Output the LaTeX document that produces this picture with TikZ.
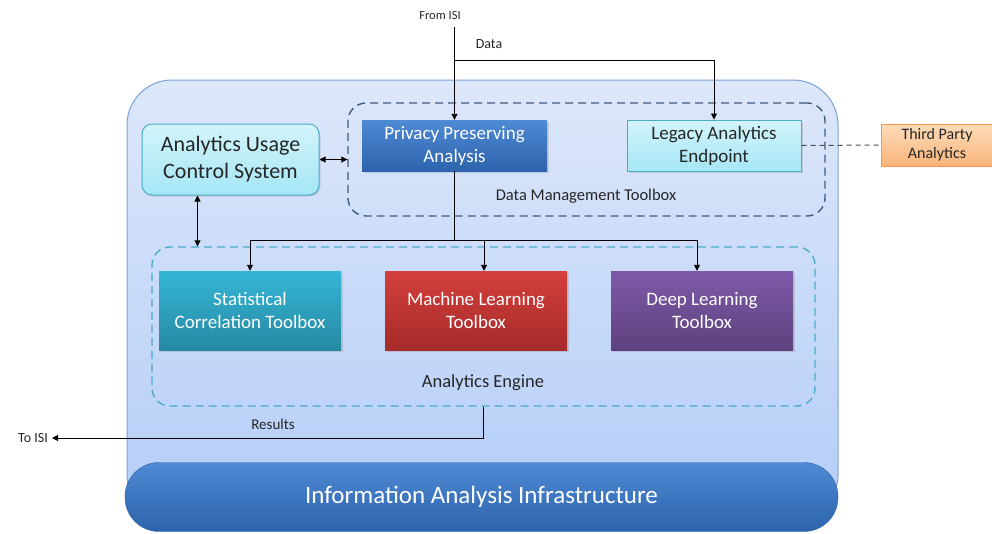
\documentclass[tikz,border=0pt]{standalone}
\usepackage{fontspec}
\setmainfont{Carlito}
\usetikzlibrary{arrows.meta,shadows}

\definecolor{panelTop}{HTML}{DDE7FA}
\definecolor{panelBot}{HTML}{B3CDF7}
\definecolor{panelLine}{HTML}{7BA3D6}
\definecolor{blueTop}{HTML}{4F8AD4}
\definecolor{blueBot}{HTML}{2C63AC}
\definecolor{cyanTop}{HTML}{D3F4FB}
\definecolor{cyanBot}{HTML}{A5E6F5}
\definecolor{cyanLine}{HTML}{4BACC6}
\definecolor{tealTop}{HTML}{35B6D6}
\definecolor{tealBot}{HTML}{2689A3}
\definecolor{redTop}{HTML}{D33F3C}
\definecolor{redBot}{HTML}{A52B2A}
\definecolor{purpTop}{HTML}{7D5AA8}
\definecolor{purpBot}{HTML}{5E417E}
\definecolor{orngTop}{HTML}{FDDCBA}
\definecolor{orngBot}{HTML}{F9B47A}
\definecolor{orngLine}{HTML}{F79646}
\definecolor{dashBlue}{HTML}{3F5B82}

\begin{document}
\begin{tikzpicture}[x=1pt,y=-1pt,
	every node/.style={inner sep=0pt, align=center, text=black!85},
	arrow/.style={draw=black, line width=0.9pt, -{Triangle[length=6pt,width=6pt]}},
	dblarrow/.style={draw=black, line width=0.9pt, {Triangle[length=6pt,width=6pt]}-{Triangle[length=6pt,width=6pt]}},
	plainline/.style={draw=black, line width=0.9pt},
	darkbox/.style={minimum width=182pt, minimum height=79pt, text=white, font=\fontsize{19}{23}\selectfont,
		drop shadow={opacity=0.25, shadow xshift=1.5pt, shadow yshift=-1.5pt}},
	lightbox/.style={draw=cyanLine, line width=1pt, top color=cyanTop, bottom color=cyanBot,
		drop shadow={opacity=0.25, shadow xshift=1.5pt, shadow yshift=-1.5pt}},
	groupbox/.style={dashed, dash pattern=on 8pt off 5pt, line width=1.4pt, rounded corners=18pt},
	caption/.style={font=\fontsize{16.5}{20}\selectfont}]
	\useasboundingbox (0,0) rectangle (992,533);
	% platform and base bar
	\draw [draw=panelLine, line width=1pt, top color=panelTop, bottom color=panelBot, rounded corners=45pt] (127,80) rectangle (838,520);
	\node [minimum width=713pt, minimum height=69pt, rounded corners=34pt, draw=blueBot, top color=blueTop, bottom color=blueBot, text=white, font=\fontsize{25}{29}\selectfont] (infra) at (481.5,497) {Information Analysis Infrastructure};
	% groups
	\node [groupbox, draw=dashBlue, minimum width=477pt, minimum height=113pt] (dmtool) at (586.5,159.5) {};
	\node [caption] at (586,196) {Data Management Toolbox};
	\node [groupbox, draw=cyanLine, minimum width=663pt, minimum height=159pt] (engine) at (483.5,326.5) {};
	\node [caption, font=\fontsize{18.5}{22}\selectfont] at (483,383) {Analytics Engine};
	% boxes
	\node [lightbox, rounded corners=10pt, minimum width=177pt, minimum height=71pt, font=\fontsize{22}{27}\selectfont] (aucs) at (230.5,159.5) {Analytics Usage\\Control System};
	\node [darkbox, top color=blueTop, bottom color=blueBot, minimum width=185pt, minimum height=51pt] (privacy) at (454.5,145.5) {Privacy Preserving\\Analysis};
	\node [lightbox, minimum width=174pt, minimum height=51pt, font=\fontsize{19}{23}\selectfont] (legacy) at (714,145.5) {Legacy Analytics\\Endpoint};
	\node [draw=orngLine, line width=1pt, top color=orngTop, bottom color=orngBot, minimum width=112pt, minimum height=42pt, font=\fontsize{16}{19}\selectfont] (third) at (937,145) {Third Party\\Analytics};
	\node [darkbox, top color=tealTop, bottom color=tealBot] (stat) at (250,310.5) {Statistical\\Correlation Toolbox};
	\node [darkbox, top color=redTop, bottom color=redBot] (ml) at (476,310.5) {Machine Learning\\Toolbox};
	\node [darkbox, top color=purpTop, bottom color=purpBot] (deep) at (702,310.5) {Deep Learning\\Toolbox};
	% outside labels
	\node [font=\fontsize{12.5}{15}\selectfont] (fromisi) at (440,15) {From ISI};
	\node [font=\fontsize{14}{17}\selectfont] (datalbl) at (489,44) {Data};
	\node [font=\fontsize{14}{17}\selectfont, inner xsep=4pt] (toisi) at (33,438) {To ISI};
	\node [font=\fontsize{15}{18}\selectfont] (results) at (273,424) {Results};
	% connectors
	\coordinate (inlet) at (454.5,27);
	\coordinate (split) at (454.5,60);
	\coordinate (fork) at (452,240);
	\draw [arrow] (inlet) -- (privacy.north);
	\draw [arrow] (split) -| (legacy.north);
	\draw [dblarrow] (aucs.east) -- (aucs.east -| dmtool.west);
	\draw [dblarrow] ([xshift=-33pt]aucs.south) -- ([xshift=-33pt]aucs.south |- engine.north);
	\draw [plainline] (fork -| privacy.south) -- (privacy.south);
	\draw [plainline] (fork -| stat.north) -- ([xshift=-5pt]fork -| deep.north);
	\draw [arrow] (fork -| stat.north) -- (stat.north);
	\draw [arrow] ([xshift=8pt]fork -| ml.north) -- ([xshift=8pt]ml.north);
	\draw [arrow] ([xshift=-5pt]fork -| deep.north) -- ([xshift=-5pt]deep.north);
	\draw [arrow] (engine.south) |- (toisi.east);
	\draw [draw=black!70, dashed, dash pattern=on 5pt off 4pt, line width=1pt] (legacy.east) -- (third.west);
\end{tikzpicture}
\end{document}
